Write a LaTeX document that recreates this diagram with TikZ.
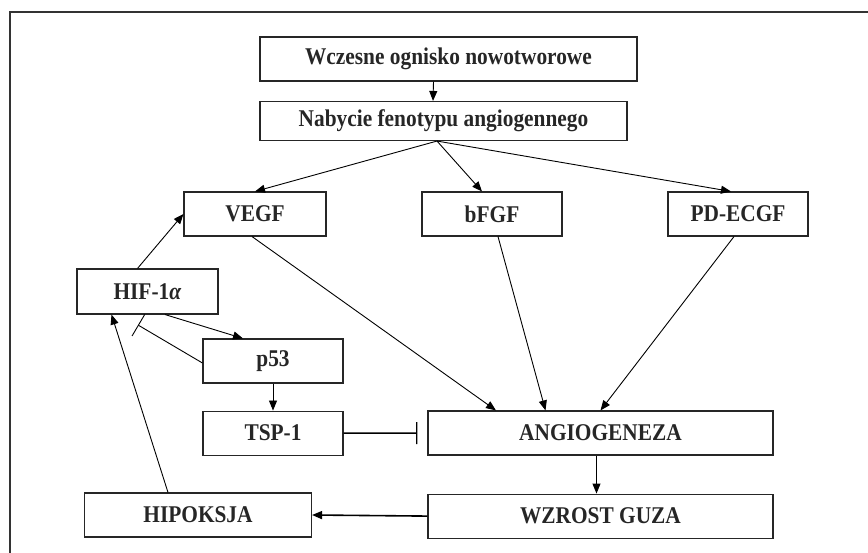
\documentclass[tikz,border=0pt]{standalone}
\usepackage{fontspec}
\setmainfont{Liberation Serif}[FakeStretch=0.89]
\usetikzlibrary{arrows.meta, positioning, calc}
\tikzset{
    box/.style={
        rectangle, draw=black!85, line width=1.1pt,
        minimum width=#1, minimum height=44pt, inner sep=0pt,
        font=\fontsize{24}{27}\selectfont\bfseries, text=black!85
    },
    box/.default=140pt,
    arrow/.style={-{Triangle[length=10pt,width=8pt]}, line width=0.9pt, color=black},
    inhibit/.style={-{Bar[width=22pt]}, line width=0.9pt, color=black},
    frame/.style={line width=1.4pt, color=black!80}
}
\begin{document}
\begin{tikzpicture}[x=1pt, y=-1pt]
    \useasboundingbox (0,0) rectangle (868,553);

    % Frame
    \draw[frame] (10,553) -- (10,12) -- (868,12);

    % Top: origin of the tumour
    \node[box=377pt] (wcz) at (448.5,59) {Wczesne ognisko nowotworowe};
    \node[box=367pt, minimum height=39pt] (nab) at (443.5,121) {Nabycie fenotypu angiogennego};

    % Row 2: growth factors
    \node[box=142pt] (vegf) at (255,214) {VEGF};
    \node[box] (bfgf) at (492,214) {bFGF};
    \node[box] (pdecgf) at (738,214) {PD-ECGF};

    % Left column: regulators
    \node[box=141pt, minimum height=45pt] (hif) at (147.5,291.5) {HIF-1\textit{α}};
    \node[box] (p53) at (273,361) {p53};
    \node[box, below=27pt of p53] (tsp) {TSP-1};

    % Bottom: angiogenesis and growth
    \node[box=345pt] (angio) at (600.5,433) {ANGIOGENEZA};
    \node[box=345pt, below=38pt of angio] (wzrost) {WZROST GUZA};
    \node[box=227pt] (hip) at (198,515) {HIPOKSJA};

    \coordinate (hifbar) at (138,325);

    % Arrows
    \draw[arrow] ([xshift=-15pt]wcz.south) -- ([xshift=-10.5pt]nab.north);
    \draw[arrow] ([xshift=-6.5pt]nab.south) -- (vegf.north);
    \draw[arrow] ([xshift=-6.5pt]nab.south) -- ([xshift=-10pt]bfgf.north);
    \draw[arrow] ([xshift=-6.5pt]nab.south) -- ([xshift=-7pt]pdecgf.north);
    \draw[arrow] ([xshift=-3pt]vegf.south) -- ([xshift=-104.5pt]angio.north);
    \draw[arrow] ([xshift=6pt]bfgf.south) -- ([xshift=-55pt]angio.north);
    \draw[arrow] ([xshift=-4pt]pdecgf.south) -- (angio.north);
    \draw[arrow] ([xshift=-10pt]hif.north) -- (vegf.west);
    \draw[arrow] ([xshift=17.5pt]hif.south) -- ([xshift=-30pt]p53.north);
    \draw[arrow] (p53) -- (tsp);
    \draw[arrow] ([xshift=-4pt]angio.south) -- ([xshift=-4pt]wzrost.north);
    \draw[arrow, line width=1.6pt] (wzrost.west) -- (hip.east);
    \draw[arrow] ([xshift=-30pt]hip.north) -- ([xshift=-36pt]hif.south);

    % Inhibition
    \draw[inhibit, line width=1.4pt, shorten >=10pt] (tsp) -- (angio);
    \draw[inhibit, -{Bar[width=25pt]}] ([yshift=-2pt]p53.west) -- (hifbar);

\end{tikzpicture}
\end{document}
